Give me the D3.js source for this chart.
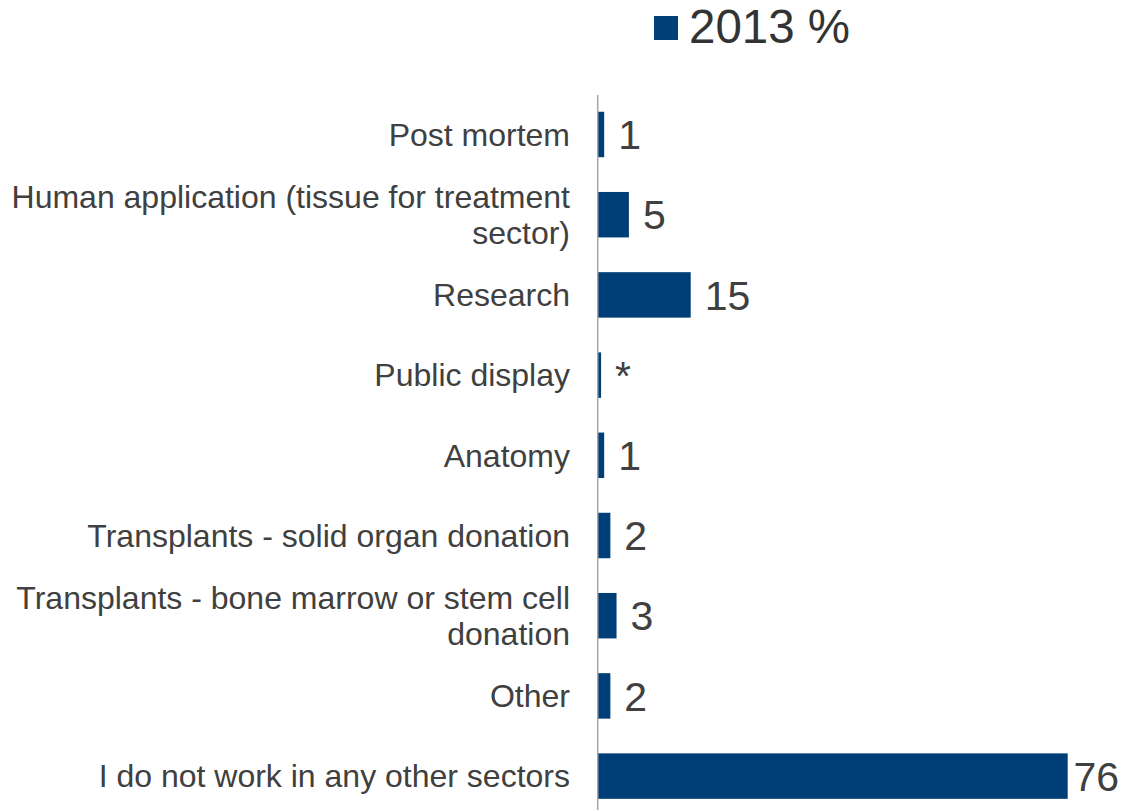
<!DOCTYPE html>
<html>
<head>
<meta charset="utf-8">
<script src="https://cdn.jsdelivr.net/npm/d3@7/dist/d3.min.js"></script>
<style>
  html, body { margin: 0; padding: 0; background: #ffffff; }
  svg { display: block; font-family: "Liberation Sans", Arial, sans-serif; }
</style>
</head>
<body>
<svg id="chart" width="1122" height="810"></svg>
<script>
// Sectors respondents also work in (2013 survey, %)
const categories = [
  "Post mortem",
  "Human application (tissue for treatment sector)",
  "Research",
  "Public display",
  "Anatomy",
  "Transplants - solid organ donation",
  "Transplants - bone marrow or stem cell donation",
  "Other",
  "I do not work in any other sectors"
];
const values2013 = [1, 5, 15, 0.5, 1, 2, 3, 2, 76];
const valueLabels = ["1", "5", "15", "*", "1", "2", "3", "2", "76"];
const seriesName = "2013 %";

const W = 1122, H = 810;
const barColor = "#003E78";
const textColor = "#404040";

const svg = d3.select("#chart");

const x = d3.scaleLinear().domain([0, 76]).range([598, 1067.7]);
const y = d3.scaleBand()
  .domain(categories)
  .range([94.4, 94.4 + 9 * 80.2])
  .paddingInner(0.433)
  .paddingOuter(0.2165);

// bars
svg.append("g").selectAll("rect")
  .data(categories)
  .join("rect")
  .attr("x", x(0))
  .attr("y", d => y(d))
  .attr("width", (d, i) => x(values2013[i]) - x(0))
  .attr("height", y.bandwidth())
  .attr("fill", barColor);

// vertical category axis line
svg.append("line")
  .attr("x1", 597.7).attr("x2", 597.7)
  .attr("y1", 95).attr("y2", H)
  .attr("stroke", "#a6a6a6")
  .attr("stroke-width", 1.5);

// category labels, wrapped to fit the left margin
const labelFont = 32, lineH = 36, maxLabelW = 566;
const measure = svg.append("text").attr("font-size", labelFont).attr("visibility", "hidden");
function wrap(str) {
  const words = str.split(" ");
  const lines = [];
  let cur = "";
  words.forEach(w => {
    const test = cur ? cur + " " + w : w;
    measure.text(test);
    if (measure.node().getComputedTextLength() > maxLabelW && cur) {
      lines.push(cur);
      cur = w;
    } else {
      cur = test;
    }
  });
  if (cur) lines.push(cur);
  return lines;
}

const labels = svg.append("g");
categories.forEach(c => {
  const lines = wrap(c);
  const cy = y(c) + y.bandwidth() / 2;
  lines.forEach((ln, k) => {
    labels.append("text")
      .attr("text-anchor", "end")
      .attr("font-size", labelFont)
      .attr("fill", textColor)
      .attr("x", 570)
      .attr("y", cy + (k - (lines.length - 1) / 2) * lineH)
      .attr("dy", "0.35em")
      .text(ln);
  });
});
measure.remove();

// value labels
const valFont = 41;
svg.append("g").selectAll("text")
  .data(categories)
  .join("text")
  .attr("font-size", valFont)
  .attr("fill", textColor)
  .attr("dy", "0.36em")
  .attr("y", d => y(d) + y.bandwidth() / 2)
  .text((d, i) => valueLabels[i])
  .each(function(d, i) {
    const w = this.getComputedTextLength();
    const px = Math.min(x(values2013[i]) + 14, 1119 - w);
    d3.select(this).attr("x", px);
  });

// legend
const legend = svg.append("g");
legend.append("rect")
  .attr("x", 654).attr("y", 16)
  .attr("width", 24).attr("height", 24)
  .attr("fill", barColor);
legend.append("text")
  .attr("x", 689).attr("y", 43.3)
  .attr("font-size", 47.5)
  .attr("fill", "#333333")
  .text(seriesName);
</script>
</body>
</html>
